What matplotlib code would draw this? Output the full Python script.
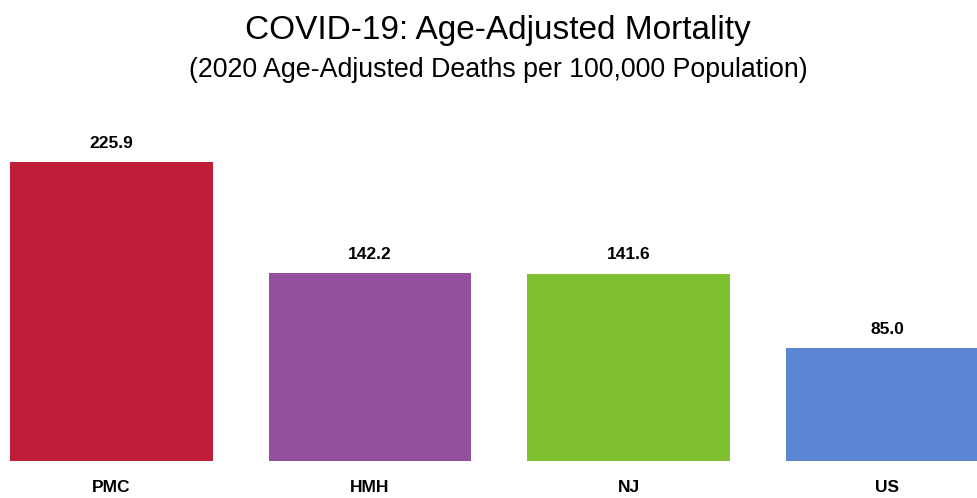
import matplotlib.pyplot as plt
from matplotlib import font_manager

categories = ['PMC', 'HMH', 'NJ', 'US']
values = [225.9, 142.2, 141.6, 85.0]
colors = ['#BE1E37', '#94509E', '#80BE32', '#5B86D6']

names = {f.name for f in font_manager.fontManager.ttflist}
label_font = 'Liberation Sans Narrow' if 'Liberation Sans Narrow' in names else 'Liberation Sans'

fig = plt.figure(figsize=(9.78, 4.98), dpi=100)
# axes spans full width; bottom at the bar baseline
ax = fig.add_axes([0, 37 / 498, 1, 361 / 498])
x = range(len(categories))
ax.bar(x, values, width=0.785, color=colors)
ax.set_xlim(-111.5 / 258.5, (978 - 111.5) / 258.5)
ax.set_ylim(0, 361 / 1.3236)

for i, v in zip(x, values):
    ax.annotate(f'{v:.1f}', (i, v), xytext=(0, 8), textcoords='offset points',
                ha='center', va='bottom', fontsize=12.5, fontweight='bold',
                family=label_font)
    ax.annotate(categories[i], (i, 0), xytext=(0, -19), textcoords='offset points',
                ha='center', va='center', fontsize=12.5, fontweight='bold',
                family=label_font)

ax.axis('off')

fig.text(498 / 978, 1 - 31 / 498, 'COVID-19: Age-Adjusted Mortality',
         ha='center', va='center', fontsize=24, family='Liberation Sans')
fig.text(498 / 978, 1 - 70 / 498, '(2020 Age-Adjusted Deaths per 100,000 Population)',
         ha='center', va='center', fontsize=19.3, family='Liberation Sans')

fig.savefig('out.png', dpi=100)
